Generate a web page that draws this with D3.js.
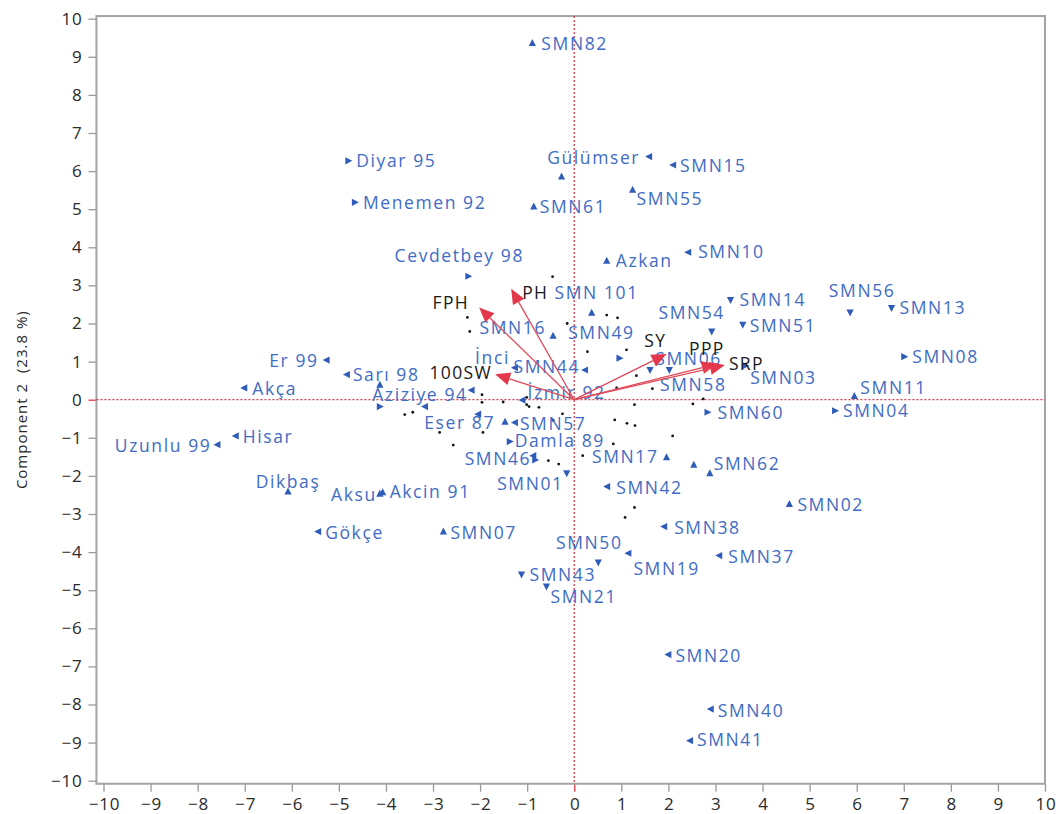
<!DOCTYPE html>
<html>
<head>
<meta charset="utf-8">
<script src="https://cdn.jsdelivr.net/npm/d3@7"></script>
<style>
  body { margin: 0; background: #fff; }
  svg text { font-family: "Open Sans", "Noto Sans", sans-serif; }
</style>
</head>
<body>
<svg id="chart" width="1059" height="814"></svg>
<script>
// ---- Genotype scores on the first two principal components ----
const genotypes = [
  "SMN82","Diyar 95","Menemen 92","Gülümser","SMN15","SMN55","SMN61","Cevdetbey 98",
  "Azkan","SMN10","SMN14","SMN56","SMN13","SMN54","SMN51","SMN08","SMN03","SMN11",
  "SMN04","SMN60","SMN62","SMN02","SMN38","SMN37","SMN19","SMN50","SMN43","SMN21",
  "SMN20","SMN40","SMN41","Er 99","Sarı 98","Akça","Hisar","Uzunlu 99","Dikbaş",
  "Gökçe","Aksu","Akcin 91","Aziziye 94","Eser 87","İzmir 92","SMN57","Damla 89",
  "SMN46","SMN01","SMN17","SMN42","SMN07","SMN16","SMN49","SMN 101","İnci","SMN44",
  "SMN06","SMN58"
];
const genotypePC1 = [
  -0.89,-4.80,-4.66, 1.59, 2.10, 1.24,-0.86,-2.25,
   0.69, 2.42, 3.32, 5.86, 6.74, 2.92, 3.58, 7.01, 3.63, 5.95,
   5.54, 2.83, 2.88, 4.57, 1.91, 3.08, 1.15, 0.51,-1.12,-0.59,
   2.00, 2.90, 2.46,-5.26,-4.83,-7.01,-7.19,-7.58,-6.08,
  -5.44,-4.13,-4.07,-2.18,-1.47,-1.10,-1.26,-1.37,
  -0.83,-0.16, 1.96, 0.70,-2.78,-0.45, 0.96, 0.37,-1.26, 0.23,
   2.02, 1.61
];
const genotypePC2 = [
   9.36, 6.27, 5.18, 6.38, 6.16, 5.51, 5.07, 3.24,
   3.65, 3.87, 2.62, 2.29, 2.41, 1.79, 1.97, 1.13, 0.89, 0.10,
  -0.29,-0.33,-1.93,-2.74,-3.33,-4.09,-4.03,-4.27,-4.59,-4.90,
  -6.69,-8.12,-8.95, 1.04, 0.66, 0.31,-0.95,-1.18,-2.41,
  -3.46,-2.47,-2.43, 0.25,-0.58,-0.01,-0.60,-1.10,
  -1.58,-1.93,-1.51,-2.28,-3.46, 1.68, 1.09, 2.28, 0.84, 0.78,
   0.78, 0.78
];
// marker group: 1 = left, 2 = right, 3 = up, 4 = down triangle
const genotypeGroup = [
  3,2,2,1,1,3,3,2,
  3,1,4,4,4,4,4,2,2,3,
  2,2,3,3,1,1,1,4,4,4,
  1,1,1,1,1,1,1,1,3,
  1,3,3,1,3,1,1,2,
  2,4,3,1,3,3,2,3,1,1,
  4,4
];

// unlabelled genotype markers
const extraPC1   = [-0.27, 2.54, -4.13, -4.13, -3.17, -2.04, -0.87];
const extraPC2   = [ 5.86,-1.71,  0.39, -0.18, -0.18, -0.38, -1.47];
const extraGroup = [ 3, 3, 3, 2, 1, 1, 1];

// remaining observations (small black dots)
const dotPC1 = [
  -0.46, 0.69, 0.92,-2.27,-2.22,-0.15, 0.28, 1.11, 1.32, 1.66,
   1.28, 2.52, 2.74, 0.90,-1.96,-1.96,-1.51,-1.01,-0.96,-0.75,
  -0.25,-3.60,-3.43,-2.86,-1.94,-2.57,-0.45, 0.86, 1.12, 1.29,
   0.83, 2.09, 0.18,-0.55,-0.33, 1.28, 1.08,-1.01
];
const dotPC2 = [
   3.23, 2.22, 2.15, 2.16, 1.79, 2.00, 1.26, 1.31, 0.63, 0.29,
  -0.13,-0.11, 0.02, 0.31, 0.13,-0.07,-0.06, 0.06,-0.18,-0.20,
  -0.37,-0.39,-0.33,-0.86,-0.86,-1.19,-0.54,-0.53,-0.62,-0.68,
  -1.16,-0.95,-1.47,-1.60,-1.69,-2.83,-3.09,-0.13
];

// ---- Trait loadings (biplot vectors) ----
const traits   = ["FPH", "PH", "100SW", "SY", "PPP", "SRP"];
const traitPC1 = [-2.02, -1.34, -1.68, 1.96, 3.03, 3.20];
const traitPC2 = [ 2.42,  2.91,  0.67, 1.20, 0.94, 0.91];

// ---- Axes ----
const xTicks = [-10,-9,-8,-7,-6,-5,-4,-3,-2,-1,0,1,2,3,4,5,6,7,8,9,10];
const yTicks = [-10,-9,-8,-7,-6,-5,-4,-3,-2,-1,0,1,2,3,4,5,6,7,8,9,10];
const yTitle = "Component 2  (23.8 %)";

// ---- Label layout: [anchor, dx, dy] relative to marker ----
const labelLayout = {
  "SMN82":["start",9,7], "Diyar 95":["start",8,6], "Menemen 92":["start",8,7],
  "Gülümser":["end",-9,7], "SMN15":["start",7,7], "SMN55":["start",4,15],
  "SMN61":["start",6,6], "Cevdetbey 98":["middle",-9,-14], "Azkan":["start",9,6],
  "SMN10":["start",10,6], "SMN14":["start",9,6], "SMN56":["middle",12,-15],
  "SMN13":["start",8,6], "SMN54":["middle",-20,-13], "SMN51":["start",7,7],
  "SMN08":["start",8,6], "SMN03":["start",5,18], "SMN11":["start",6,-2],
  "SMN04":["start",8,6], "SMN60":["start",10,7], "SMN62":["start",4,-3],
  "SMN02":["start",8,7], "SMN38":["start",10,7], "SMN37":["start",9,7],
  "SMN19":["start",5,22], "SMN50":["middle",-9,-13], "SMN43":["start",8,6],
  "SMN21":["start",4,17], "SMN20":["start",7,7], "SMN40":["start",7,8],
  "SMN41":["start",7,5], "Er 99":["end",-8,7], "Sarı 98":["start",6,6],
  "Akça":["start",8,7], "Hisar":["start",7,7], "Uzunlu 99":["end",-6,7],
  "Dikbaş":["middle",0,-4], "Gökçe":["start",7,7], "Aksu":["end",-3,7],
  "Akcin 91":["start",7,6], "Aziziye 94":["end",-4,11], "Eser 87":["end",-10,7],
  "İzmir 92":["start",5,-1], "SMN57":["start",5,7], "Damla 89":["start",5,5],
  "SMN46":["end",-4,5], "SMN01":["end",-3,17], "SMN17":["end",-8,6],
  "SMN42":["start",9,7], "SMN07":["start",7,7], "SMN16":["end",-7,-2],
  "SMN49":["middle",-18,-19], "SMN 101":["middle",5,-14], "İnci":["end",-5,-4],
  "SMN44":["end",-5,3], "SMN06":["start",-14,-5], "SMN58":["start",10,21]
};
const traitLayout = {
  "FPH":["end",-10,2], "PH":["start",11,10], "100SW":["end",-3,5],
  "SY":["end",0,-7], "PPP":["middle",-10,-9], "SRP":["start",4,5]
};

// ---- Drawing ----
const svg = d3.select("#chart");
const x = d3.scaleLinear().domain([-10, 10]).range([103.5, 1045]);
const y = d3.scaleLinear().domain([-10, 10]).range([780.7, 18.7]);

const frame = { left: x(-10.15), right: x(10), top: y(10.07), bottom: y(-10.08) };
const blue = "#3f6cc4", markerBlue = "#2f5cb8", red = "#dc3b4c";

svg.append("rect").attr("width", 1059).attr("height", 814).attr("fill", "#fff");

// axes
const yAxis = d3.axisLeft(y).tickValues(yTicks).tickSize(8).tickPadding(6).tickFormat(d3.format("d"));
const xAxis = d3.axisBottom(x).tickValues(xTicks).tickSize(8).tickPadding(6).tickFormat(d3.format("d"));

const gy = svg.append("g").attr("transform", `translate(${frame.left},0)`).call(yAxis);
const gx = svg.append("g").attr("transform", `translate(0,${frame.bottom})`).call(xAxis);
[gx, gy].forEach(g => {
  g.select(".domain").remove();
  g.selectAll(".tick line").attr("stroke", d => d === 0 ? red : "#9a9a9a").attr("stroke-width", 1.3);
  g.selectAll(".tick text").attr("fill", "#2a2a2a").style("font-size", "17px")
    .style("letter-spacing", "0.8px");
});
gx.selectAll(".tick text").attr("dx", "0.4px");

// frame
svg.append("rect")
  .attr("x", frame.left).attr("y", frame.top)
  .attr("width", frame.right - frame.left).attr("height", frame.bottom - frame.top)
  .attr("fill", "none").attr("stroke", "#a3a3a3").attr("stroke-width", 2);

// reference lines at zero
svg.append("line")
  .attr("x1", frame.left).attr("x2", frame.right).attr("y1", y(0)).attr("y2", y(0))
  .attr("stroke", red).attr("stroke-width", 1.3).attr("stroke-dasharray", "2,2");
svg.append("line")
  .attr("x1", x(0)).attr("x2", x(0)).attr("y1", frame.top).attr("y2", frame.bottom)
  .attr("stroke", red).attr("stroke-width", 1.3).attr("stroke-dasharray", "2,2");

// y axis title
svg.append("text")
  .attr("transform", `translate(27,${y(0)}) rotate(-90)`)
  .attr("text-anchor", "middle")
  .style("font-size", "15px").style("letter-spacing", "1px").style("white-space", "pre")
  .attr("fill", "#2a2a2a")
  .text(yTitle);

// small dots
svg.append("g").selectAll("circle")
  .data(dotPC1.map((v, i) => [v, dotPC2[i]]))
  .join("circle")
  .attr("cx", d => x(d[0])).attr("cy", d => y(d[1])).attr("r", 1.4)
  .attr("fill", "#111");

// triangle marker path by group
const rot = { 1: 180, 2: 0, 3: -90, 4: 90 };
const tri = "M4,0 L-3,-3.6 L-3,3.6 Z";

function drawMarkers(pc1, pc2, grp) {
  svg.append("g").selectAll("path")
    .data(pc1.map((v, i) => ({ a: v, b: pc2[i], g: grp[i] })))
    .join("path")
    .attr("d", tri)
    .attr("transform", d => `translate(${x(d.a)},${y(d.b)}) rotate(${rot[d.g]})`)
    .attr("fill", markerBlue);
}
drawMarkers(extraPC1, extraPC2, extraGroup);
drawMarkers(genotypePC1, genotypePC2, genotypeGroup);

// genotype labels
svg.append("g").selectAll("text")
  .data(genotypes.map((n, i) => ({ n, a: genotypePC1[i], b: genotypePC2[i] })))
  .join("text")
  .each(function (d) {
    const L = labelLayout[d.n] || ["start", 8, 6];
    d3.select(this)
      .attr("x", x(d.a) + L[1]).attr("y", y(d.b) + L[2])
      .attr("text-anchor", L[0]);
  })
  .attr("fill", blue)
  .style("font-size", "17.5px").style("letter-spacing", "1.6px")
  .text(d => d.n);

// loading vectors
const vec = svg.append("g");
traits.forEach((t, i) => {
  const x0 = x(0), y0 = y(0);
  const x1 = x(traitPC1[i]), y1 = y(traitPC2[i]);
  const ang = Math.atan2(y1 - y0, x1 - x0);
  const hl = 15, hw = 6.5;
  const bx = x1 - hl * Math.cos(ang), by = y1 - hl * Math.sin(ang);
  vec.append("line")
    .attr("x1", x0).attr("y1", y0).attr("x2", bx).attr("y2", by)
    .attr("stroke", "#e04a5a").attr("stroke-width", 1.3);
  const px = -Math.sin(ang) * hw, py = Math.cos(ang) * hw;
  vec.append("path")
    .attr("d", `M${x1},${y1} L${bx + px},${by + py} L${bx - px},${by - py} Z`)
    .attr("fill", "#e3384b");
  const L = traitLayout[t];
  vec.append("text")
    .attr("x", x1 + L[1]).attr("y", y1 + L[2])
    .attr("text-anchor", L[0])
    .attr("fill", "#1a1a1a")
    .style("font-size", "17.5px").style("letter-spacing", "1.4px")
    .text(t);
});
</script>
</body>
</html>
